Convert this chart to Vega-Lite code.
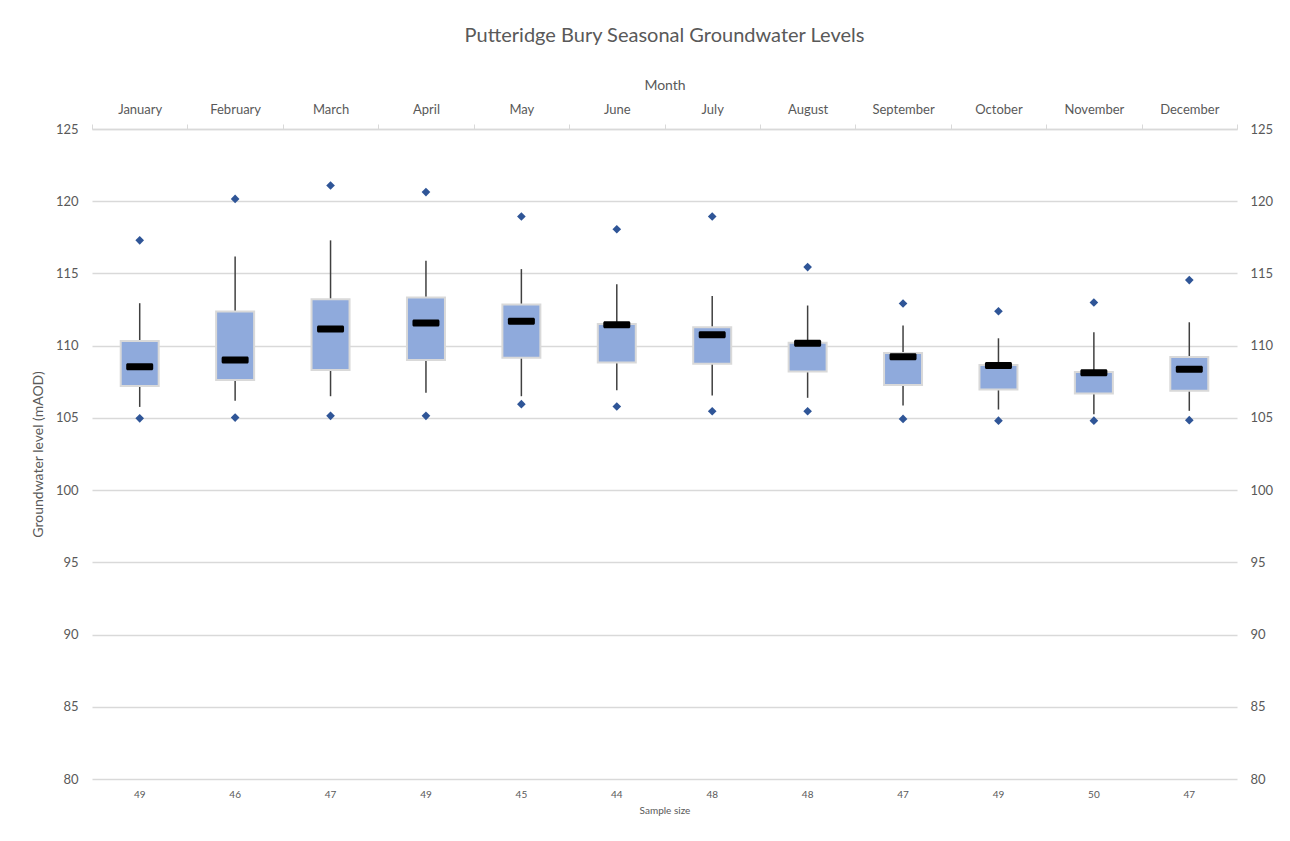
{
  "$schema": "https://vega.github.io/schema/vega-lite/v6.json",
  "width": 1145,
  "height": 650,
  "autosize": "none",
  "padding": {"left": 92, "top": 129, "right": 53, "bottom": 62},
  "background": "white",
  "title": {"text": "Putteridge Bury Seasonal Groundwater Levels", "font": "Lato", "fontSize": 20, "fontWeight": "normal", "color": "#595959", "offset": 32},
  "config": {"view": {"stroke": null}, "font": "Lato"},
  "datasets": {
    "gw": [
      {"month": "January", "n": 49, "min": 104.97, "wlo": 105.76, "q1": 107.2, "median": 108.54, "q3": 110.32, "whi": 112.94, "max": 117.29},
      {"month": "February", "n": 46, "min": 105.02, "wlo": 106.18, "q1": 107.62, "median": 109.0, "q3": 112.36, "whi": 116.18, "max": 120.16},
      {"month": "March", "n": 47, "min": 105.14, "wlo": 106.5, "q1": 108.31, "median": 111.16, "q3": 113.22, "whi": 117.29, "max": 121.09},
      {"month": "April", "n": 49, "min": 105.14, "wlo": 106.74, "q1": 109.0, "median": 111.57, "q3": 113.33, "whi": 115.88, "max": 120.63},
      {"month": "May", "n": 45, "min": 105.95, "wlo": 106.5, "q1": 109.17, "median": 111.69, "q3": 112.85, "whi": 115.3, "max": 118.94},
      {"month": "June", "n": 44, "min": 105.79, "wlo": 106.92, "q1": 108.84, "median": 111.45, "q3": 111.5, "whi": 114.26, "max": 118.06},
      {"month": "July", "n": 48, "min": 105.46, "wlo": 106.55, "q1": 108.75, "median": 110.76, "q3": 111.27, "whi": 113.43, "max": 118.94},
      {"month": "August", "n": 48, "min": 105.46, "wlo": 106.39, "q1": 108.22, "median": 110.16, "q3": 110.21, "whi": 112.78, "max": 115.44},
      {"month": "September", "n": 47, "min": 104.93, "wlo": 105.86, "q1": 107.27, "median": 109.24, "q3": 109.49, "whi": 111.39, "max": 112.92},
      {"month": "October", "n": 49, "min": 104.81, "wlo": 105.58, "q1": 106.97, "median": 108.63, "q3": 108.66, "whi": 110.51, "max": 112.38},
      {"month": "November", "n": 50, "min": 104.81, "wlo": 105.25, "q1": 106.69, "median": 108.13, "q3": 108.17, "whi": 110.93, "max": 112.99},
      {"month": "December", "n": 47, "min": 104.84, "wlo": 105.49, "q1": 106.88, "median": 108.36, "q3": 109.21, "whi": 111.62, "max": 114.54}
    ]
  },
  "data": {"name": "gw"},
  "layer": [
    {
      "encoding": {
        "x": {
          "field": "month", "type": "nominal", "sort": null,
          "scale": {"type": "band", "paddingInner": 0, "paddingOuter": 0},
          "axis": {
            "orient": "top", "title": "Month", "titleFont": "Lato", "titleFontSize": 14, "titleFontWeight": "normal", "titleColor": "#595959", "titlePadding": 11,
            "labelAngle": 0, "labelFont": "Lato", "labelFontSize": 13, "labelColor": "#595959", "labelPadding": 8,
            "tickBand": "extent", "tickSize": 5, "tickColor": "#D9D9D9", "domainColor": "#D9D9D9", "domainWidth": 1.5, "grid": false
          }
        }
      },
      "layer": [
        {
          "mark": {"type": "rule", "color": "#404040", "strokeWidth": 1.5},
          "encoding": {
            "y": {"field": "q3", "type": "quantitative", "scale": {"domain": [80, 125]},
              "axis": {"orient": "left", "values": [80, 85, 90, 95, 100, 105, 110, 115, 120, 125], "title": "Groundwater level (mAOD)", "titleFont": "Lato", "titleFontSize": 14, "titleFontWeight": "normal", "titleColor": "#595959", "titlePadding": 10,
                "labelFont": "Lato", "labelFontSize": 13, "labelColor": "#595959", "labelPadding": 14, "ticks": false, "domain": false, "grid": true, "gridColor": "#D9D9D9", "gridWidth": 1.5}},
            "y2": {"field": "whi"}
          }
        },
        {
          "mark": {"type": "rule", "color": "#404040", "strokeWidth": 1.5},
          "encoding": {"y": {"field": "wlo", "type": "quantitative"}, "y2": {"field": "q1"}}
        },
        {
          "mark": {"type": "bar", "size": 38, "color": "#8FAADC", "stroke": "#D9D9D9", "strokeWidth": 2},
          "encoding": {"y": {"field": "q1", "type": "quantitative"}, "y2": {"field": "q3"}}
        },
        {
          "mark": {"type": "tick", "color": "black", "size": 27, "thickness": 7, "opacity": 1, "cornerRadius": 1.5},
          "encoding": {"y": {"field": "median", "type": "quantitative"}}
        },
        {
          "mark": {"type": "point", "shape": "diamond", "filled": true, "color": "#2F5597", "size": 75, "opacity": 1},
          "encoding": {"y": {"field": "max", "type": "quantitative"}}
        },
        {
          "mark": {"type": "point", "shape": "diamond", "filled": true, "color": "#2F5597", "size": 75, "opacity": 1},
          "encoding": {"y": {"field": "min", "type": "quantitative"}}
        }
      ]
    },
    {
      "mark": {"type": "point", "opacity": 0},
      "encoding": {
        "x": {
          "field": "month", "type": "nominal", "sort": null,
          "axis": {
            "orient": "bottom", "title": "Sample size", "titleFont": "Lato", "titleFontSize": 10, "titleFontWeight": "normal", "titleColor": "#595959", "titlePadding": 6,
            "labelAngle": 0, "labelFont": "Lato", "labelFontSize": 10, "labelColor": "#595959", "labelPadding": 10,
            "labelExpr": "pluck(data('gw'), 'n')[indexof(pluck(data('gw'), 'month'), datum.value)]",
            "ticks": false, "domain": false, "grid": false
          }
        },
        "y": {"field": "median", "type": "quantitative", "scale": {"domain": [80, 125]},
          "axis": {"orient": "right", "values": [80, 85, 90, 95, 100, 105, 110, 115, 120, 125], "title": null, "labelFont": "Lato", "labelFontSize": 13, "labelColor": "#595959", "labelPadding": 13, "ticks": false, "domain": false, "grid": false}}
      }
    }
  ],
  "resolve": {"axis": {"x": "independent", "y": "independent"}}
}
